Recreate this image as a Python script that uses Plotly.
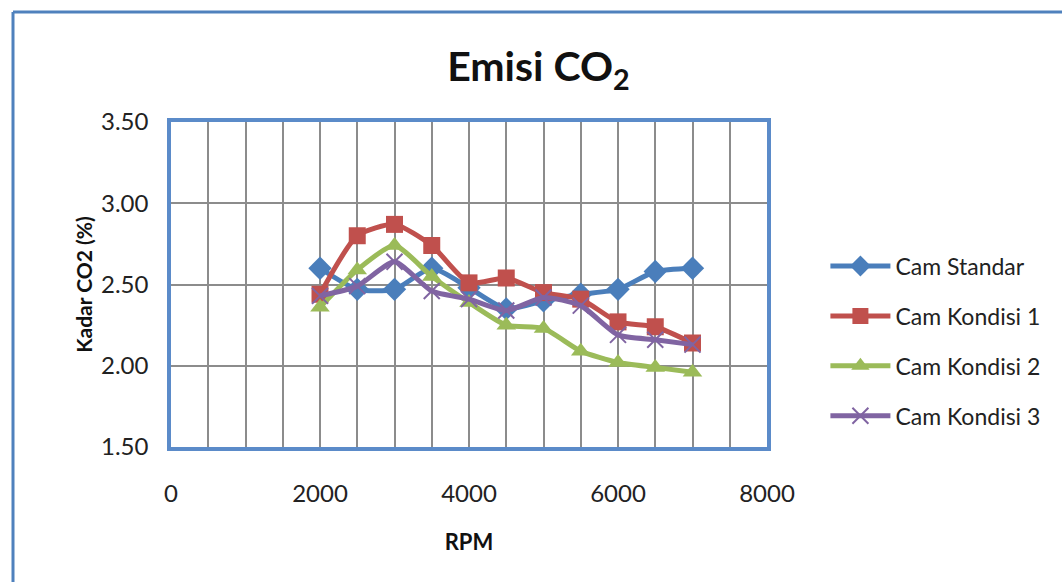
import plotly.graph_objects as go

rpm = [2000, 2500, 3000, 3500, 4000, 4500, 5000, 5500, 6000, 6500, 7000]
cam_standar = [2.60, 2.47, 2.47, 2.60, 2.48, 2.35, 2.40, 2.44, 2.47, 2.58, 2.60]
cam_kondisi1 = [2.44, 2.80, 2.87, 2.74, 2.51, 2.54, 2.45, 2.41, 2.27, 2.24, 2.14]
cam_kondisi2 = [2.36, 2.59, 2.74, 2.55, 2.39, 2.25, 2.23, 2.09, 2.02, 1.99, 1.96]
cam_kondisi3 = [2.43, 2.49, 2.64, 2.46, 2.41, 2.34, 2.42, 2.37, 2.19, 2.16, 2.13]

series = [
    ("Cam Standar", cam_standar, "#4A7EBB", "diamond", 18, None),
    ("Cam Kondisi 1", cam_kondisi1, "#C0504D", "square", 17, None),
    ("Cam Kondisi 2", cam_kondisi2, "#9BBB59", "triangle-up", 17, None),
    ("Cam Kondisi 3", cam_kondisi3, "#8064A2", "x-thin", 16, 2),
]

FONT = "Lato, 'Open Sans', sans-serif"

fig = go.Figure()
for i, (name, vals, color, sym, size, lw) in enumerate(series):
    marker = dict(symbol=sym, size=size, color=color)
    if lw:
        marker["line"] = dict(color=color, width=lw)
    fig.add_trace(go.Scatter(
        x=rpm, y=vals, name=name, mode="lines+markers", legendgroup=f"g{i}",
        line=dict(color=color, width=5, shape="spline", smoothing=0.6),
        marker=marker,
    ))

fig.update_layout(
    width=1062, height=582,
    margin=dict(l=171, r=295, t=122, b=135),
    paper_bgcolor="white", plot_bgcolor="white",
    font=dict(family=FONT, size=24, color="#222222"),
    title=dict(text="<b>Emisi CO<sub>2</sub></b>", x=0.507, xanchor="center",
               y=0.885, yanchor="middle", font=dict(size=41, color="#111111")),
    legend=dict(x=1.098, y=0.326, xanchor="left", yanchor="middle",
                font=dict(size=23, color="#222222"), tracegroupgap=17,
                itemwidth=60, bgcolor="rgba(0,0,0,0)"),
    showlegend=True,
)
fig.update_xaxes(
    range=[0, 8000], tickvals=[0, 2000, 4000, 6000, 8000],
    showgrid=True, gridcolor="#8C8C8C", gridwidth=1.5,
    minor=dict(dtick=500, showgrid=True, gridcolor="#8C8C8C", gridwidth=1.5),
    showline=True, linecolor="#5B8BC9", linewidth=3.5, mirror=True,
    zeroline=False, ticks="", ticklabelstandoff=22,
    tickfont=dict(size=24),
    title=dict(text="<b>RPM</b>", font=dict(size=22, color="#111111"), standoff=30),
)
fig.update_yaxes(
    range=[1.5, 3.5], dtick=0.5, tickformat=".2f",
    showgrid=True, gridcolor="#8C8C8C", gridwidth=1.5,
    showline=True, linecolor="#5B8BC9", linewidth=3.5, mirror=True,
    zeroline=False, ticks="", ticklabelstandoff=14,
    tickfont=dict(size=24),
    title=dict(text="<b>Kadar CO2 (%)</b>", font=dict(size=21, color="#111111"), standoff=4),
)
# outer frame lines (left and top) of the embedded chart image
fig.add_shape(type="line", xref="paper", yref="paper",
              x0=-158/596, x1=-158/596, y0=(447-12)/325, y1=-135/325 - 0.05,
              line=dict(color="#4F81BD", width=3))
fig.add_shape(type="line", xref="paper", yref="paper",
              x0=-158/596, x1=(1062-171)/596 + 0.05, y0=(447-12)/325, y1=(447-12)/325,
              line=dict(color="#4F81BD", width=3))

fig.write_html("out.html")
